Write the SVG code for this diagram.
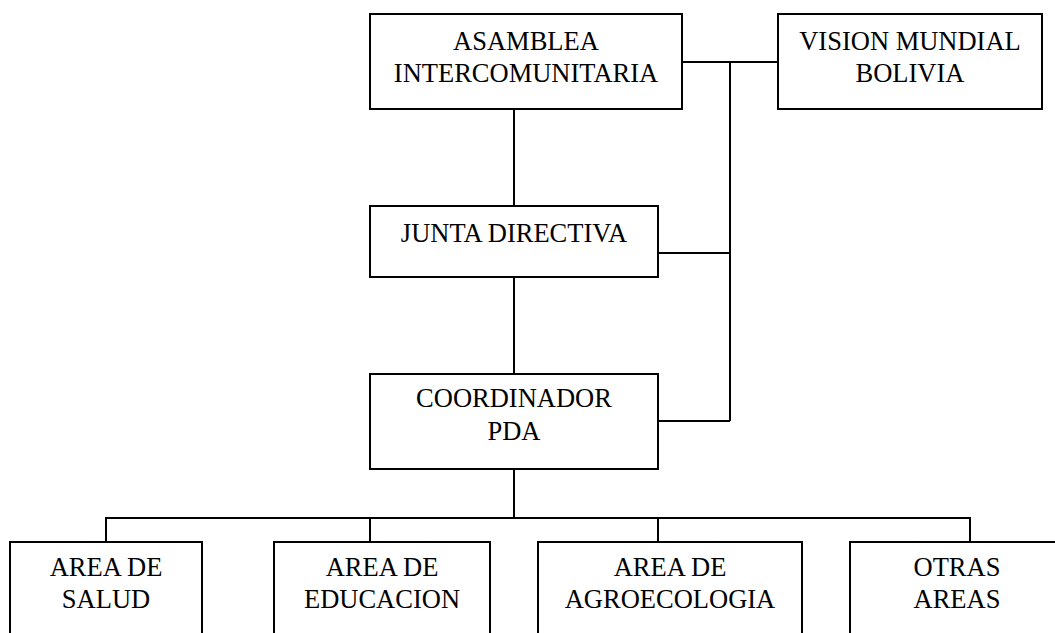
<svg xmlns="http://www.w3.org/2000/svg" width="1055" height="633" viewBox="0 0 1055 633">
<style>
.box{fill:#fff;stroke:#000;stroke-width:2}
.ln{fill:none;stroke:#000;stroke-width:2}
text{font-family:"Liberation Serif","Times New Roman",serif;font-size:26.5px;fill:#000;text-anchor:middle}
</style>
<rect width="1055" height="633" fill="#fff"/>
<g id="connectors">
<path class="ln" d="M682 62H778M730 62V421M658 253H730M658 421H730"/>
<path class="ln" d="M514 109V206M514 277V374M514 469V518"/>
<path class="ln" d="M106 542V518H970V542M370 518V542M658 518V542"/>
</g>
<g id="asamblea"><rect class="box" x="370" y="14" width="312" height="95"/><text x="526" y="50">ASAMBLEA</text><text x="526" y="82">INTERCOMUNITARIA</text></g>
<g id="vision"><rect class="box" x="778" y="14" width="264" height="95"/><text x="910" y="50">VISION MUNDIAL</text><text x="910" y="82">BOLIVIA</text></g>
<g id="junta"><rect class="box" x="370" y="206" width="288" height="71"/><text x="514" y="242">JUNTA DIRECTIVA</text></g>
<g id="coordinador"><rect class="box" x="370" y="374" width="288" height="95"/><text x="514" y="407">COORDINADOR</text><text x="514" y="440">PDA</text></g>
<g id="salud"><rect class="box" x="10" y="542" width="192" height="110"/><text x="106" y="576">AREA DE</text><text x="106" y="608">SALUD</text></g>
<g id="educacion"><rect class="box" x="274" y="542" width="216" height="110"/><text x="382" y="576">AREA DE</text><text x="382" y="608">EDUCACION</text></g>
<g id="agroecologia"><rect class="box" x="538" y="542" width="264" height="110"/><text x="670" y="576">AREA DE</text><text x="670" y="608">AGROECOLOGIA</text></g>
<g id="otras"><rect class="box" x="850" y="542" width="214" height="110"/><text x="957" y="576">OTRAS</text><text x="957" y="608">AREAS</text></g>
</svg>
